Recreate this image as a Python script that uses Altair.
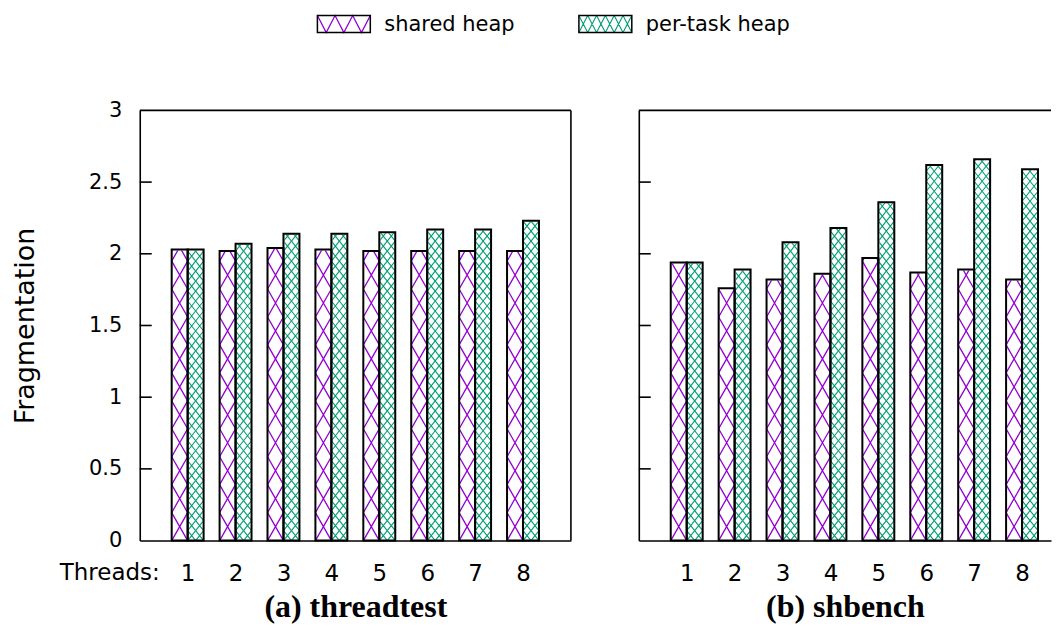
import altair as alt
import pandas as pd

# ---------------- data ----------------
threads = [1, 2, 3, 4, 5, 6, 7, 8]
series = ["shared heap", "per-task heap"]
tt_shared = [2.03, 2.02, 2.04, 2.03, 2.02, 2.02, 2.02, 2.02]
tt_pertask = [2.03, 2.07, 2.14, 2.14, 2.15, 2.17, 2.17, 2.23]
sh_shared = [1.94, 1.76, 1.82, 1.86, 1.97, 1.87, 1.89, 1.82]
sh_pertask = [1.94, 1.89, 2.08, 2.18, 2.36, 2.62, 2.66, 2.59]
y_ticks = [0, 0.5, 1, 1.5, 2, 2.5, 3]
panel_titles = ["(a) threadtest", "(b) shbench"]
y_title = "Fragmentation"
x_prefix = "Threads:"

# ---------------- style ----------------
PURPLE = "#9400d3"
GREEN = "#009e73"
SANS = "DejaVu Sans"
SERIF = "Liberation Serif"
W_L, W_R, H = 432, 413, 431
PX_X = 48.0           # px per thread unit
PX_Y = H / 3.0        # px per fragmentation unit
BAR = 1.0 / 3.0       # bar width in thread units
H_S = 28.0 / PX_Y     # hatch tile height (shared) in data units
H_G = 10.0 / PX_Y     # hatch tile height (per-task) in data units
EXTRA = 2.0 / PX_Y
LW = 1.6

X_SHARED = "M-1,-1.75L1,1.75M1,-1.75L-1,1.75"
X_GREEN = "M-1,-1.25L1,1.25M1,-1.25L-1,1.25"


def bars_df(shared, pertask):
    rows = []
    for t, s, p in zip(threads, shared, pertask):
        rows.append(dict(series=series[0], x0=t - BAR, x1=t, base=0.0, v=s, top=s + H_S + EXTRA))
        rows.append(dict(series=series[1], x0=t, x1=t + BAR, base=0.0, v=p, top=p + H_G + EXTRA))
    return pd.DataFrame(rows)


def tiles_df(shared, pertask):
    rs, rg = [], []
    for t, s, p in zip(threads, shared, pertask):
        k = 0
        while k * H_S < s:
            rs.append(dict(xc=t - BAR / 2, yc=(k + 0.5) * H_S))
            k += 1
        k = 0
        while k * H_G < p:
            for c in (0.25, 0.75):
                rg.append(dict(xc=t + BAR * c, yc=(k + 0.5) * H_G))
            k += 1
    return pd.DataFrame(rs), pd.DataFrame(rg)


def xenc(field, xmax, title):
    return alt.X(
        field, type="quantitative",
        scale=alt.Scale(domain=[0, xmax], nice=False, zero=False),
        axis=alt.Axis(values=threads, format="d", title=title,
                      labelFontSize=23, labelFont=SANS, labelColor="black",
                      labelPadding=22, labelFlush=False, ticks=False, grid=False,
                      domain=True, domainColor="black", domainWidth=LW,
                      titleFont=SERIF, titleFontWeight="bold", titleFontSize=32,
                      titleColor="black", titlePadding=6),
    )


def yenc(field, left):
    if left:
        ax = alt.Axis(values=y_ticks, format="~g", title=y_title,
                      labelFontSize=21, labelFont=SANS, labelColor="black",
                      labelPadding=18, labelFlush=False, ticks=False, grid=False,
                      domain=True, domainColor="black", domainWidth=LW,
                      titleFont=SANS, titleFontWeight="normal", titleFontSize=27,
                      titleColor="black", titlePadding=49)
    else:
        ax = alt.Axis(values=y_ticks, labels=False, title=None, ticks=False, grid=False,
                      domain=True, domainColor="black", domainWidth=LW)
    return alt.Y(field, type="quantitative",
                 scale=alt.Scale(domain=[0, 3], nice=False, zero=True), axis=ax)


def zigzag_path(n=3, h=0.3208):
    pts = []
    for i in range(2 * n + 1):
        x = -1 + i / n
        y = -h if i % 2 == 0 else h
        pts.append(f"{x:.4f},{y:.4f}")
    return "M" + "L".join(pts)


def xrow_path(n=6, h=0.3208):
    parts = []
    for i in range(n):
        xa = -1 + 2 * i / n
        xb = xa + 2 / n
        parts.append(f"M{xa:.4f},{-h:.4f}L{xb:.4f},{h:.4f}M{xb:.4f},{-h:.4f}L{xa:.4f},{h:.4f}")
    return "".join(parts)


one = pd.DataFrame({"a": [0]})


def panel(shared, pertask, title, width, left):
    xmax = width / PX_X
    bdf = bars_df(shared, pertask)
    sdf, gdf = tiles_df(shared, pertask)

    hatch_s = alt.Chart(sdf).mark_point(
        shape=X_SHARED, size=256, filled=False, color=PURPLE, opacity=1, strokeWidth=1.3
    ).encode(x=xenc("xc", xmax, title), y=yenc("yc", left))
    hatch_g = alt.Chart(gdf).mark_point(
        shape=X_GREEN, size=64, filled=False, color=GREEN, opacity=1, strokeWidth=1.1
    ).encode(x=xenc("xc", xmax, title), y=yenc("yc", left))
    cover = alt.Chart(bdf).mark_rect(fill="white", stroke="white", strokeWidth=2).encode(
        x=xenc("x0", xmax, title), x2="x1", y=yenc("v", left), y2="top")
    outline = alt.Chart(bdf).mark_rect(
        fill="white", fillOpacity=0, stroke="black", strokeWidth=2
    ).encode(x=xenc("x0", xmax, title), x2="x1", y=yenc("base", left), y2="v")
    tick_df = pd.DataFrame({"tk": y_ticks[1:-1]})
    ticks = alt.Chart(tick_df).mark_rule(color="black", strokeWidth=LW).encode(
        y=yenc("tk", left), x=alt.value(0), x2=alt.value(12))
    top = alt.Chart(one).mark_rule(color="black", strokeWidth=LW).encode(
        x=alt.value(0), x2=alt.value(width), y=alt.value(0))
    layers = [hatch_s, hatch_g, cover, outline, ticks, top]
    if left:
        right = alt.Chart(one).mark_rule(color="black", strokeWidth=LW).encode(
            x=alt.value(width), y=alt.value(0), y2=alt.value(H))
        prefix = alt.Chart(pd.DataFrame({"t": [x_prefix]})).mark_text(
            font=SANS, fontSize=23, align="right", baseline="top", color="black"
        ).encode(text="t:N", x=alt.value(20), y=alt.value(H + 22))
        # legend
        leg_text = alt.Chart(pd.DataFrame({"s": series, "lx": [245, 507]})).mark_text(
            font=SANS, fontSize=21, align="left", baseline="middle", color="black"
        ).encode(text="s:N", x=alt.X("lx:Q", scale=None), y=alt.value(-86))
        sw1 = alt.Chart(one).mark_point(
            shape=zigzag_path(), size=53 * 53, filled=False, color=PURPLE, opacity=1, strokeWidth=1.3
        ).encode(x=alt.value(204.5), y=alt.value(-86.5))
        sw2 = alt.Chart(one).mark_point(
            shape=xrow_path(), size=53 * 53, filled=False, color=GREEN, opacity=1, strokeWidth=1.1
        ).encode(x=alt.value(466.5), y=alt.value(-86.5))
        box1 = alt.Chart(one).mark_rect(fill="white", fillOpacity=0, stroke="black", strokeWidth=1.5).encode(
            x=alt.value(178), x2=alt.value(231), y=alt.value(-95), y2=alt.value(-78))
        box2 = alt.Chart(one).mark_rect(fill="white", fillOpacity=0, stroke="black", strokeWidth=1.5).encode(
            x=alt.value(440), x2=alt.value(493), y=alt.value(-95), y2=alt.value(-78))
        layers += [right, prefix, leg_text, sw1, sw2, box1, box2]
    return alt.layer(*layers).properties(width=width, height=H)


left_panel = panel(tt_shared, tt_pertask, panel_titles[0], W_L, True)
right_panel = panel(sh_shared, sh_pertask, panel_titles[1], W_R, False)

chart = alt.hconcat(left_panel, right_panel, spacing=68, bounds="flush").properties(
    padding={"left": 3, "top": 3, "right": 0, "bottom": 0},
    background="white",
).configure_view(stroke="transparent")

chart.save("out.html", embed_options={"renderer": "svg", "actions": False})
